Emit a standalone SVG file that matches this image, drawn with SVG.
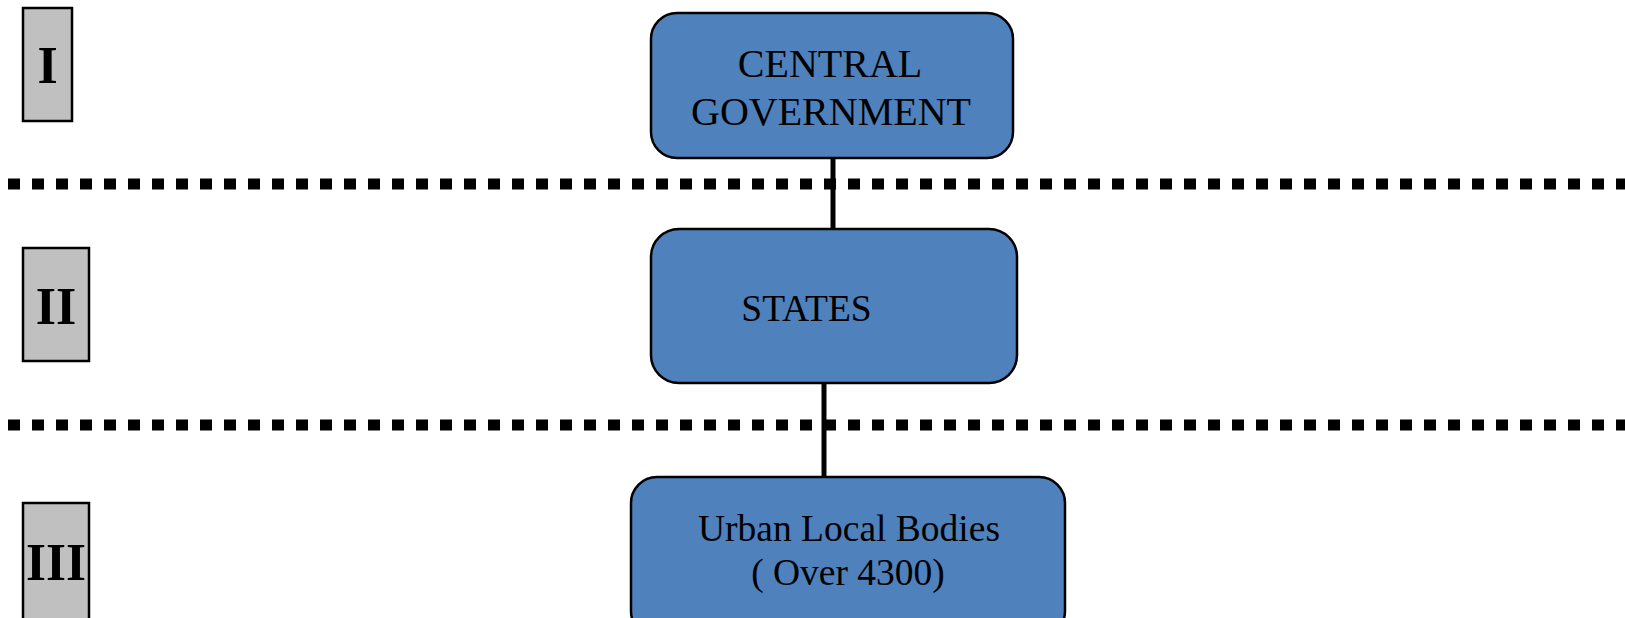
<svg xmlns="http://www.w3.org/2000/svg" width="1625" height="618" viewBox="0 0 1625 618">
<style>
.lvl{fill:#c0c0c0;stroke:#000;stroke-width:2.5}
.lvlt{font-family:"Liberation Serif",serif;font-weight:bold;font-size:52px;fill:#000;text-anchor:middle}
.node{fill:#4f81bd;stroke:#000;stroke-width:2.5}
.nt{font-family:"Liberation Serif",serif;fill:#000;text-anchor:middle}
.sep{stroke:#000;stroke-width:11;stroke-dasharray:12 12}
.conn{stroke:#000;stroke-width:5;fill:none}
</style>
<rect width="1625" height="618" fill="#fff"/>
<g id="separators">
<line class="sep" x1="8" y1="184" x2="1625" y2="184"/>
<line class="sep" x1="8" y1="425" x2="1625" y2="425"/>
</g>
<g id="level-1"><rect class="lvl" x="23" y="8" width="49" height="113"/><text class="lvlt" x="47.5" y="83">I</text></g>
<g id="level-2"><rect class="lvl" x="23" y="248" width="66" height="113"/><text class="lvlt" x="56" y="324">II</text></g>
<g id="level-3"><rect class="lvl" x="23" y="503" width="66" height="130"/><text class="lvlt" x="56" y="580" textLength="60" lengthAdjust="spacingAndGlyphs">III</text></g>
<g id="connectors">
<line class="conn" x1="833" y1="158" x2="833" y2="229"/>
<line class="conn" x1="824" y1="383" x2="824" y2="477"/>
</g>
<g id="central-government">
<rect class="node" x="651" y="13" width="362" height="145" rx="26"/>
<text class="nt" x="830" y="77" font-size="40">CENTRAL</text>
<text class="nt" x="831" y="125" font-size="40">GOVERNMENT</text>
</g>
<g id="states">
<rect class="node" x="651" y="229" width="366" height="154" rx="28"/>
<text class="nt" x="806.5" y="321" font-size="37.5">STATES</text>
</g>
<g id="urban-local-bodies">
<rect class="node" x="631" y="477" width="434" height="160" rx="26"/>
<text class="nt" x="849" y="541" font-size="37.5">Urban Local Bodies</text>
<text class="nt" x="848" y="585" font-size="37.5">( Over 4300)</text>
</g>
</svg>
